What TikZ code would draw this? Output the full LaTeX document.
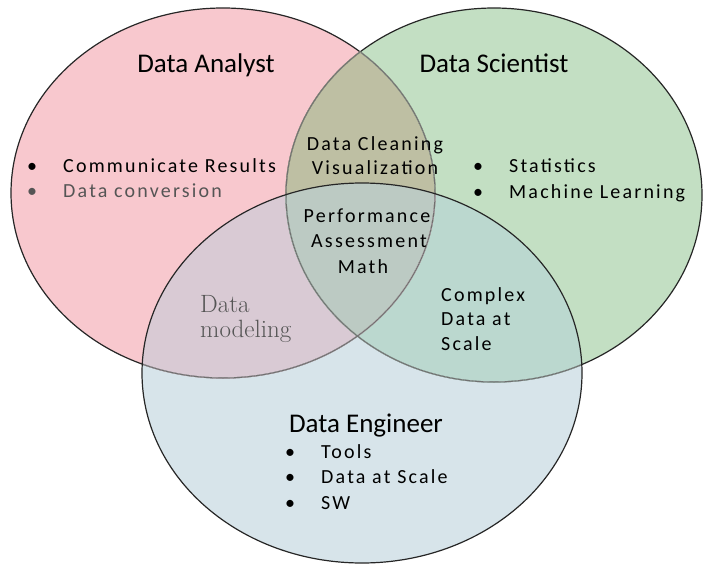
\documentclass[tikz,border=0pt]{standalone}
\usepackage{fontspec}
\newfontfamily\carlito{Carlito}
\newfontfamily\carlitowide[LetterSpace=11]{Carlito}

\definecolor{analystfill}{HTML}{F8C8CE}
\definecolor{scientistfill}{HTML}{C3DFC3}
\definecolor{engineerfill}{HTML}{D7E4EA}
\definecolor{anasci}{HTML}{BEBFA3}
\definecolor{anaeng}{HTML}{D9CAD4}
\definecolor{scieng}{HTML}{BBD8CF}
\definecolor{allthree}{HTML}{BCCAC3}
\definecolor{innerline}{HTML}{707070}
\definecolor{softtext}{HTML}{555555}

\newcommand{\analystset}{(223,193) ellipse [x radius=212pt, y radius=185pt]}
\newcommand{\scientistset}{(494,195) ellipse [x radius=208pt, y radius=187pt]}
\newcommand{\engineerset}{(362,373) ellipse [x radius=220pt, y radius=190pt]}
\newcommand{\bul}{\makebox[36pt][l]{\textbullet}}

\begin{document}
\begin{tikzpicture}[x=1pt, y=-1pt,
    title/.style={font=\carlito\fontsize{27}{32}\selectfont, inner sep=0pt, anchor=base},
    item/.style={font=\carlitowide\fontsize{20}{24}\selectfont, inner sep=0pt, anchor=base west},
    midtext/.style={font=\carlitowide\fontsize{20}{24}\selectfont, inner sep=0pt, anchor=base},
    serifnote/.style={font=\fontsize{25}{29}\selectfont, text=softtext, inner sep=0pt, anchor=base west}]
    \useasboundingbox (0,0) rectangle (703,564);

    % the three sets
    \fill[analystfill] \analystset;
    \fill[scientistfill] \scientistset;
    \fill[engineerfill] \engineerset;

    % overlaps
    \begin{scope}
        \clip \analystset;
        \fill[anasci] \scientistset;
        \fill[anaeng] \engineerset;
        \clip \scientistset;
        \fill[allthree] \engineerset;
    \end{scope}
    \begin{scope}
        \clip \scientistset;
        \clip \engineerset;
        \fill[scieng] (0,0) rectangle (703,564);
        \clip \analystset;
        \fill[allthree] (0,0) rectangle (703,564);
    \end{scope}

    % outlines
    \draw[line width=1.2pt, black!85] \analystset;
    \draw[line width=1.2pt, black!85] \scientistset;
    \begin{scope}
        \clip \scientistset;
        \draw[line width=1.4pt, scientistfill!60!anasci] \analystset;
        \draw[line width=1pt, innerline] \analystset;
    \end{scope}
    \begin{scope}
        \clip \analystset;
        \draw[line width=1.4pt, anasci] \scientistset;
        \draw[line width=1pt, innerline] \scientistset;
    \end{scope}
    \begin{scope}
        \clip \engineerset;
        \draw[line width=1.4pt, anaeng] \analystset;
        \draw[line width=1.4pt, scieng] \scientistset;
        \draw[line width=1pt, innerline] \analystset;
        \draw[line width=1pt, innerline] \scientistset;
    \end{scope}
    \draw[line width=1.2pt, black!85] \engineerset;

    % titles
    \node[title] (analyst) at (206,73) {Data Analyst};
    \node[title] (scientist) at (494,73) {Data Scientist};
    \node[title] (engineer) at (366,432) {Data Engineer};

    % analyst only
    \node[item] (communicate) at (27,172) {\bul Communicate Results};
    \node[item, text=softtext] (conversion) at (27,197) {\bul Data conversion};

    % scientist only
    \node[item] (statistics) at (473,172) {\bul Statistics};
    \node[item] (learning) at (473,198) {\bul Machine Learning};

    % analyst and scientist
    \node[midtext] (cleaning) at (375,151) {Data Cleaning};
    \node[midtext] (visual) at (375,175) {Visualization};

    % all three
    \node[midtext] (performance) at (367,222) {Performance};
    \node[midtext] (assessment) at (369,247) {Assessment};
    \node[midtext] (math) at (363,273) {Math};

    % analyst and engineer
    \node[serifnote] (datam) at (200,312) {Data};
    \node[serifnote] (modeling) at (200,337) {modeling};

    % scientist and engineer
    \node[item] (complex) at (441,301) {Complex};
    \node[item] (dataat) at (441,325) {Data at};
    \node[item] (scale) at (441,350) {Scale};

    % engineer only
    \node[item] (tools) at (285,458) {\bul Tools};
    \node[item] (datascale) at (285,483) {\bul Data at Scale};
    \node[item] (sw) at (285,509) {\bul SW};
\end{tikzpicture}
\end{document}
